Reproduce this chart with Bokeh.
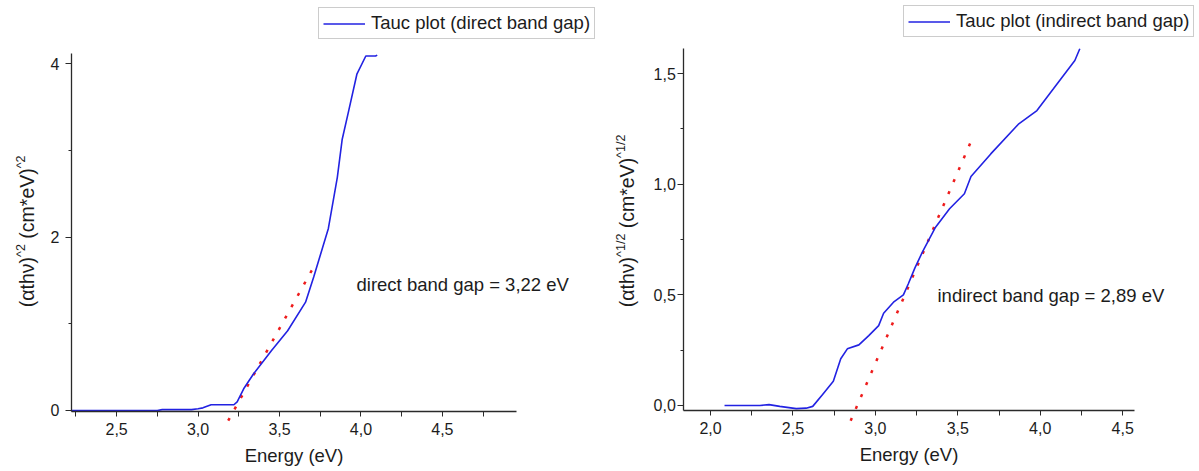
from bokeh.plotting import figure
from bokeh.layouts import row
from bokeh.models import (Legend, LegendItem, Label, FixedTicker,
                          CustomJSTickFormatter, Range1d)
from bokeh.embed import file_html
from bokeh.resources import INLINE

# ---- direct transition: (alpha h nu)^2 against photon energy ----
direct_energy = [2.22, 2.50, 2.75, 2.78, 2.96, 3.00, 3.03, 3.08, 3.22, 3.24,
                 3.28, 3.34, 3.45, 3.55, 3.66, 3.71, 3.80, 3.855, 3.885, 3.925,
                 3.975, 4.03, 4.09, 4.10]
direct_tauc = [0.0, 0.0, 0.0, 0.01, 0.01, 0.02, 0.03, 0.066, 0.066, 0.10,
               0.25, 0.42, 0.69, 0.92, 1.25, 1.54, 2.10, 2.69, 3.13, 3.46,
               3.88, 4.09, 4.09, 4.10]
direct_gap = 3.22
direct_slope = 3.38
direct_fit_span = [3.185, 3.708]

# ---- indirect transition: (alpha h nu)^(1/2) against photon energy ----
indirect_energy = [2.085, 2.20, 2.30, 2.355, 2.42, 2.52, 2.58, 2.62, 2.68, 2.745,
                   2.773, 2.79, 2.83, 2.90, 2.96, 3.02, 3.05, 3.11, 3.17, 3.20,
                   3.24, 3.285, 3.365, 3.45, 3.54, 3.58, 3.70, 3.87, 3.98, 4.08,
                   4.21, 4.24]
indirect_tauc = [0.0, 0.0, 0.0, 0.004, -0.004, -0.014, -0.012, -0.004, 0.05, 0.11,
                 0.173, 0.211, 0.256, 0.274, 0.316, 0.361, 0.417, 0.467, 0.50, 0.55,
                 0.622, 0.693, 0.806, 0.889, 0.957, 1.035, 1.137, 1.273, 1.333, 1.431,
                 1.559, 1.612]
indirect_gap = 2.89
indirect_slope = 1.73
indirect_fit_span = [2.85, 3.585]

# ---- axis extents and ticks ----
direct_xlim = (2.223, 4.955)
direct_ylim = (-0.012, 4.119)
direct_xticks = [2.5, 3.0, 3.5, 4.0, 4.5]
direct_xminor = [2.25, 2.75, 3.25, 3.75, 4.25, 4.75]
direct_yticks = [0, 2, 4]
direct_yminor = [1, 3]

indirect_xlim = (1.838, 4.570)
indirect_ylim = (-0.0226, 1.612)
indirect_xticks = [2.0, 2.5, 3.0, 3.5, 4.0, 4.5]
indirect_xminor = [2.25, 2.75, 3.25, 3.75, 4.25]
indirect_yticks = [0.0, 0.5, 1.0, 1.5]
indirect_yminor = [0.25, 0.75, 1.25]

FONT = "Liberation Sans"
INK = "#1c1c1c"
AXIS = "#2a2a2a"
CURVE = "#2222e2"
FIT = "#ee1c1c"
H = 471


def comma_fmt(decimals):
    return CustomJSTickFormatter(
        code="return tick.toFixed(%d).replace('.', ',');" % decimals)


def make_panel(width, box, xlim, ylim):
    """Figure whose frame fills the canvas; the axes box (left, top, right,
    bottom in pixels) is mapped onto xlim/ylim and the ranges are widened
    so that text and legend can sit around it."""
    left, top, right, bottom = box
    sx = (right - left) / (xlim[1] - xlim[0])
    sy = (bottom - top) / (ylim[1] - ylim[0])
    xr = Range1d(xlim[0] - left / sx, xlim[1] + (width - right) / sx)
    yr = Range1d(ylim[0] - (H - bottom) / sy, ylim[1] + top / sy)
    p = figure(width=width, height=H, output_backend="svg", toolbar_location=None,
               x_range=xr, y_range=yr, min_border=0,
               background_fill_color="white", border_fill_color="white")
    p.xgrid.visible = False
    p.ygrid.visible = False
    p.outline_line_color = None
    p.xaxis.fixed_location = ylim[0]
    p.yaxis.fixed_location = xlim[0]
    p.xaxis.bounds = xlim
    p.yaxis.bounds = ylim
    return p


def style_axes(p, xt, xm, yt, ym, ydec, ystandoff):
    p.xaxis.ticker = FixedTicker(ticks=xt, minor_ticks=xm)
    p.yaxis.ticker = FixedTicker(ticks=yt, minor_ticks=ym)
    p.xaxis.formatter = comma_fmt(1)
    p.yaxis.formatter = comma_fmt(ydec)
    for ax in (p.xaxis, p.yaxis):
        ax.axis_line_color = AXIS
        ax.axis_line_width = 1.3
        ax.major_tick_line_color = AXIS
        ax.minor_tick_line_color = AXIS
        ax.major_tick_in = 0
        ax.minor_tick_in = 0
        ax.major_label_text_font = FONT
        ax.major_label_text_font_size = "16px"
        ax.major_label_text_color = INK
        ax.axis_label_text_font = FONT
        ax.axis_label_text_font_size = "18.5px"
        ax.axis_label_text_font_style = "normal"
        ax.axis_label_text_color = INK
    p.xaxis.major_tick_out = 5
    p.xaxis.minor_tick_out = 5
    p.xaxis.major_label_standoff = 6
    p.xaxis.axis_label = "Energy (eV)"
    p.xaxis.axis_label_standoff = 7
    p.yaxis.major_tick_out = 6
    p.yaxis.minor_tick_out = 3
    p.yaxis.major_label_standoff = ystandoff


def add_ylabel(p, x, y0, sup):
    # rotated title built from pieces so the exponents sit raised and smaller;
    # each entry: text, size, lift towards the glyph top, advance after it
    pieces = [("(\u03b1th\u03bd)", "19.5px", 0.0, 50.3),
              (sup[0], "12.5px", 5.5, sup[1] + 5.4),
              ("(cm*eV)", "19.5px", 0.0, 70.4),
              (sup[0], "12.5px", 5.5, sup[1])]
    y = y0
    for text, size, lift, adv in pieces:
        p.add_layout(Label(x=x - lift, y=y, x_units="screen", y_units="screen",
                           text=text, angle=1.5707963, text_align="left",
                           text_baseline="middle", text_font=FONT,
                           text_font_size=size, text_color=INK))
        y += adv


def add_legend(p, renderer, label, x, y):
    leg = Legend(items=[LegendItem(label=label, renderers=[renderer])],
                 location=(x, y), orientation="vertical",
                 label_text_font=FONT, label_text_font_size="18.5px",
                 label_text_color=INK, border_line_color="#9a9a9a",
                 border_line_width=1, background_fill_color="white",
                 background_fill_alpha=1.0, padding=4, margin=0,
                 glyph_width=42, glyph_height=21, label_height=21,
                 label_standoff=6, spacing=0)
    p.add_layout(leg)


def add_note(p, text, x, y):
    p.add_layout(Label(x=x, y=y, x_units="screen", y_units="screen", text=text,
                       text_align="left", text_baseline="middle", text_font=FONT,
                       text_font_size="18.5px", text_color=INK))


def fit_line(gap, slope, span):
    return span, [slope * (e - gap) for e in span]


# ---- direct band gap panel ----
p1 = make_panel(600, (71, 53, 516, 411), direct_xlim, direct_ylim)
style_axes(p1, direct_xticks, direct_xminor, direct_yticks, direct_yminor, 0, 6)
fx, fy = fit_line(direct_gap, direct_slope, direct_fit_span)
p1.line(fx, fy, line_color=FIT, line_width=2.5, line_dash="3 10")
r1 = p1.line(direct_energy, direct_tauc, line_color=CURVE, line_width=1.6)
add_legend(p1, r1, "Tauc plot (direct band gap)", 318, 432)
add_ylabel(p1, 26.3, 164.3, ("^2", 12.8))
add_note(p1, ("direct band gap = %.2f eV" % direct_gap).replace(".", ","), 356, 187)

# ---- indirect band gap panel ----
p2 = make_panel(599, (83.3, 48.3, 533.7, 410), indirect_xlim, indirect_ylim)
style_axes(p2, indirect_xticks, indirect_xminor, indirect_yticks, indirect_yminor, 1, 2)
fx, fy = fit_line(indirect_gap, indirect_slope, indirect_fit_span)
p2.line(fx, fy, line_color=FIT, line_width=2.5, line_dash="3 10")
r2 = p2.line(indirect_energy, indirect_tauc, line_color=CURVE, line_width=1.6)
add_legend(p2, r2, "Tauc plot (indirect band gap)", 303, 434)
add_ylabel(p2, 26.3, 164.3, ("^1/2", 23.2))
add_note(p2, ("indirect band gap = %.2f eV" % indirect_gap).replace(".", ","), 337, 176)

layout = row(p1, p2, spacing=0)
open("out.html", "w").write(file_html(layout, INLINE))
